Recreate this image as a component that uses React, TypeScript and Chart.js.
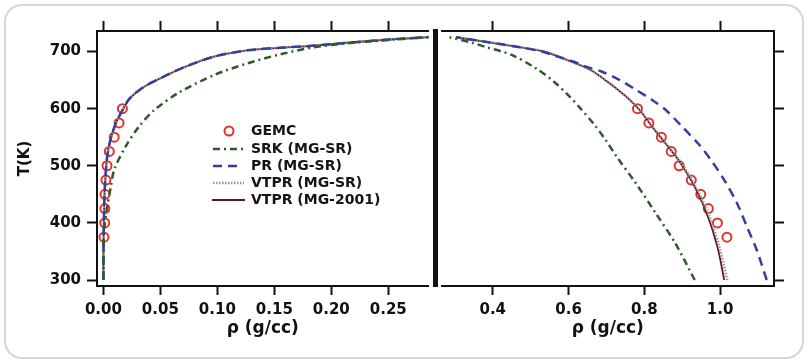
import React, { useEffect, useRef } from 'react';
import { Chart, registerables } from 'chart.js';

Chart.register(...registerables);

// ---------- data ----------
const tempTicks = [300, 400, 500, 600, 700];
const vaporTicks = [0, 0.05, 0.1, 0.15, 0.2, 0.25];
const liquidTicks = [0.4, 0.6, 0.8, 1.0];

const legendLabels = ['GEMC', 'SRK (MG-SR)', 'PR (MG-SR)', 'VTPR (MG-SR)', 'VTPR (MG-2001)'];

// GEMC simulation points
const gemcT = [375, 400, 425, 450, 475, 500, 525, 550, 575, 600];
const gemcVapor = [0.0005, 0.0012, 0.0013, 0.0014, 0.0022, 0.0032, 0.0052, 0.0095, 0.0138, 0.0167];
const gemcLiquid = [1.018, 0.993, 0.969, 0.949, 0.924, 0.892, 0.871, 0.845, 0.812, 0.782];

// VTPR (MG-2001)
const vtpr2001VaporT = [300, 350, 400, 450, 500, 525, 550, 575, 600, 615, 627, 641, 655, 671, 691, 702, 706.5, 710, 715, 721.5, 725.5];
const vtpr2001VaporRho = [0, 0.0001, 0.0004, 0.001, 0.0025, 0.004, 0.0068, 0.011, 0.0175, 0.022, 0.028, 0.038, 0.052, 0.069, 0.097, 0.126, 0.155, 0.183, 0.212, 0.255, 0.29];
const vtpr2001LiquidT = [300, 358, 411, 463, 510, 539, 568, 598, 621, 644, 668, 685, 700, 708, 717, 725];
const vtpr2001LiquidRho = [1.011, 0.993, 0.968, 0.933, 0.89, 0.856, 0.821, 0.787, 0.752, 0.709, 0.657, 0.597, 0.536, 0.467, 0.381, 0.303];

// VTPR (MG-SR)
const vtprSrVaporT = [300, 350, 400, 450, 500, 525, 550, 575, 600, 615, 627, 641, 655, 671, 691, 702, 706.5, 710, 715, 721.5, 725.5];
const vtprSrVaporRho = [0, 0.0001, 0.0004, 0.001, 0.0026, 0.0041, 0.0069, 0.0111, 0.0176, 0.022, 0.028, 0.038, 0.052, 0.069, 0.097, 0.126, 0.155, 0.183, 0.212, 0.255, 0.29];
const vtprSrLiquidT = [300, 358, 411, 463, 510, 539, 568, 598, 621, 644, 668, 685, 700, 708, 717, 725];
const vtprSrLiquidRho = [1.019, 0.998, 0.972, 0.936, 0.892, 0.857, 0.822, 0.787, 0.752, 0.709, 0.657, 0.597, 0.536, 0.467, 0.381, 0.303];

// PR (MG-SR)
const prVaporT = [300, 350, 400, 450, 500, 525, 550, 575, 600, 615, 627, 641, 655, 671, 691, 702, 706.5, 710, 715, 721.5, 725.5];
const prVaporRho = [0, 0.0001, 0.0004, 0.001, 0.0025, 0.004, 0.0068, 0.011, 0.0175, 0.022, 0.028, 0.038, 0.052, 0.069, 0.097, 0.126, 0.155, 0.183, 0.212, 0.255, 0.29];
const prLiquidT = [300, 352, 393, 434, 475, 510, 539, 569, 598, 615, 633, 650, 665, 673, 682, 691, 700, 708, 717, 725];
const prLiquidRho = [1.123, 1.097, 1.071, 1.045, 1.011, 0.976, 0.942, 0.899, 0.856, 0.821, 0.778, 0.735, 0.687, 0.648, 0.614, 0.571, 0.53, 0.467, 0.381, 0.303];

// SRK (MG-SR)
const srkVaporT = [300, 380, 422, 463, 493, 534, 568, 598, 629, 659, 679, 695, 706.7, 714, 721, 726];
const srkVaporRho = [0, 0.0004, 0.0028, 0.0065, 0.0095, 0.0196, 0.031, 0.045, 0.067, 0.0974, 0.126, 0.155, 0.183, 0.212, 0.255, 0.29];
const srkLiquidT = [300, 364, 417, 469, 516, 545, 572, 600, 625, 648, 670, 694, 708, 715, 725];
const srkLiquidRho = [0.933, 0.882, 0.83, 0.778, 0.727, 0.698, 0.668, 0.632, 0.597, 0.56, 0.515, 0.45, 0.381, 0.347, 0.286];

// ---------- styles ----------
const FONT = "'DejaVu Sans'";
const C_GEMC = '#e3332e';
const C_SRK = '#2f5a2a';
const C_PR = '#3240a6';
const C_VSR = '#959595';
const C_V01 = '#5e1424';

const DASH_SRK = [7, 4, 2, 4];
const DASH_PR = [9, 6];
const DASH_VSR = [1.5, 1.5];

const pts = (xs: number[], ys: number[]) => xs.map((x, i) => ({ x, y: ys[i] }));

const lineDs = (label: string, data: any[], color: string, dash: number[], width: number) => ({
  label,
  data,
  showLine: true,
  borderColor: color,
  backgroundColor: color,
  borderWidth: width,
  borderDash: dash,
  pointRadius: 0,
  tension: 0.3,
  fill: false,
});

const gemcDs = (data: any[]) => ({
  label: 'GEMC',
  data,
  showLine: false,
  pointStyle: 'circle',
  pointRadius: 4.5,
  pointBorderWidth: 2,
  pointBorderColor: C_GEMC,
  pointBackgroundColor: 'rgba(0,0,0,0)',
});

const Y_MIN = 289.5;
const Y_MAX = 735.9;

const tickFont = { family: FONT, size: 15, weight: 'bold' as const };
const titleFont = { family: FONT, size: 17, weight: 'bold' as const };

const setTicks = (vals: number[]) => (scale: any) => {
  scale.ticks = vals.map((v) => ({ value: v }));
};

const legendPlugin = {
  id: 'customLegend',
  afterDatasetsDraw(chart: any) {
    const ctx = chart.ctx;
    const x0 = 213;
    const x1 = 245;
    const tx = 251;
    const rows = [131, 149, 166, 183, 200];
    ctx.save();
    ctx.beginPath();
    ctx.strokeStyle = C_GEMC;
    ctx.lineWidth = 2;
    ctx.arc(229, rows[0], 4.5, 0, Math.PI * 2);
    ctx.stroke();
    const sample = (y: number, color: string, dash: number[], w: number, xa: number, xb: number) => {
      ctx.beginPath();
      ctx.setLineDash(dash);
      ctx.strokeStyle = color;
      ctx.lineWidth = w;
      ctx.moveTo(xa, y);
      ctx.lineTo(xb, y);
      ctx.stroke();
    };
    sample(rows[1], C_SRK, DASH_SRK, 2.5, x0, x1 - 2);
    sample(rows[2], C_PR, DASH_PR, 2.5, x0, x1 - 6);
    sample(rows[3], C_VSR, DASH_VSR, 2.5, x0, x1 - 1);
    sample(rows[4], C_V01, [], 2, x0 - 1, x1);
    ctx.setLineDash([]);
    ctx.fillStyle = '#151515';
    ctx.font = `bold 14px ${FONT}`;
    ctx.textBaseline = 'middle';
    ctx.textAlign = 'left';
    legendLabels.forEach((t, i) => ctx.fillText(t, tx, rows[i]));
    ctx.restore();
  },
};

const axisCommon = {
  grid: { display: true, drawOnChartArea: false, drawTicks: true, tickLength: 10, tickWidth: 2, tickColor: '#111' },
  border: { display: true, width: 2, color: '#111' },
};

export default function App() {
  const leftRef = useRef<HTMLCanvasElement>(null);
  const rightRef = useRef<HTMLCanvasElement>(null);

  useEffect(() => {
    document.body.style.margin = '0';
    const left = new Chart(leftRef.current!, {
      type: 'scatter',
      data: {
        datasets: [
          lineDs('SRK (MG-SR)', pts(srkVaporRho, srkVaporT), C_SRK, DASH_SRK, 2.5),
          lineDs('PR (MG-SR)', pts(prVaporRho, prVaporT), C_PR, DASH_PR, 2.5),
          lineDs('VTPR (MG-SR)', pts(vtprSrVaporRho, vtprSrVaporT), C_VSR, DASH_VSR, 2.5),
          lineDs('VTPR (MG-2001)', pts(vtpr2001VaporRho, vtpr2001VaporT), C_V01, [], 1.8),
          gemcDs(pts(gemcVapor, gemcT)),
        ] as any,
      },
      options: {
        responsive: false,
        animation: false,
        layout: { padding: 0 },
        plugins: { legend: { display: false }, tooltip: { enabled: false } },
        scales: {
          x: {
            type: 'linear',
            position: 'bottom',
            min: -0.0056,
            max: 0.2853,
            afterBuildTicks: setTicks(vaporTicks),
            afterFit: (s: any) => { s.height = 77; },
            ticks: { font: tickFont, color: '#111', padding: 6, maxRotation: 0, callback: (v: any) => Number(v).toFixed(2) },
            title: { display: true, text: 'ρ (g/cc)', font: titleFont, color: '#111', padding: { top: 0, bottom: 24 } },
            ...axisCommon,
            grid: { ...axisCommon.grid, tickLength: 9 },
          },
          x2: {
            type: 'linear',
            position: 'top',
            min: -0.0056,
            max: 0.2853,
            afterBuildTicks: setTicks(vaporTicks),
            afterFit: (s: any) => { s.height = 31; },
            ticks: { display: false },
            ...axisCommon,
          },
          y: {
            type: 'linear',
            position: 'left',
            min: Y_MIN,
            max: Y_MAX,
            afterBuildTicks: setTicks(tempTicks),
            afterFit: (s: any) => { s.width = 97; },
            ticks: { font: tickFont, color: '#111', padding: 6 },
            title: { display: true, text: 'T(K)', font: { family: FONT, size: 15, weight: 'bold' }, color: '#111', padding: { top: 16, bottom: 0 } },
            ...axisCommon,
          },
        },
      } as any,
      plugins: [legendPlugin],
    });

    const right = new Chart(rightRef.current!, {
      type: 'scatter',
      data: {
        datasets: [
          lineDs('SRK (MG-SR)', pts(srkLiquidRho, srkLiquidT), C_SRK, DASH_SRK, 2.5),
          lineDs('PR (MG-SR)', pts(prLiquidRho, prLiquidT), C_PR, DASH_PR, 2.5),
          lineDs('VTPR (MG-SR)', pts(vtprSrLiquidRho, vtprSrLiquidT), C_VSR, DASH_VSR, 2.5),
          lineDs('VTPR (MG-2001)', pts(vtpr2001LiquidRho, vtpr2001LiquidT), C_V01, [], 1.8),
          gemcDs(pts(gemcLiquid, gemcT)),
        ] as any,
      },
      options: {
        responsive: false,
        animation: false,
        layout: { padding: 0 },
        plugins: { legend: { display: false }, tooltip: { enabled: false } },
        scales: {
          x: {
            type: 'linear',
            position: 'bottom',
            min: 0.2647,
            max: 1.1423,
            afterBuildTicks: setTicks(liquidTicks),
            afterFit: (s: any) => { s.height = 77; },
            ticks: { font: tickFont, color: '#111', padding: 6, maxRotation: 0, callback: (v: any) => Number(v).toFixed(1) },
            title: { display: true, text: 'ρ (g/cc)', font: titleFont, color: '#111', padding: { top: 0, bottom: 24 } },
            ...axisCommon,
            grid: { ...axisCommon.grid, tickLength: 9 },
          },
          x2: {
            type: 'linear',
            position: 'top',
            min: 0.2647,
            max: 1.1423,
            afterBuildTicks: setTicks(liquidTicks),
            afterFit: (s: any) => { s.height = 31; },
            ticks: { display: false },
            ...axisCommon,
          },
          y: {
            type: 'linear',
            position: 'right',
            min: Y_MIN,
            max: Y_MAX,
            afterBuildTicks: setTicks(tempTicks),
            afterFit: (s: any) => { s.width = 35; },
            ticks: { display: false },
            ...axisCommon,
          },
        },
      } as any,
    });

    return () => {
      left.destroy();
      right.destroy();
    };
  }, []);

  return (
    <div style={{ position: 'absolute', left: 0, top: 0, width: 809, height: 363, background: '#fff', overflow: 'hidden' }}>
      <div
        style={{
          position: 'absolute',
          left: 4,
          top: 4,
          width: 796,
          height: 351,
          border: '2.5px solid #d6d6d6',
          borderRadius: 18,
          boxSizing: 'content-box',
        }}
      />
      <canvas ref={leftRef} width={435} height={363} style={{ position: 'absolute', left: 0, top: 0 }} />
      <canvas ref={rightRef} width={374} height={363} style={{ position: 'absolute', left: 435, top: 0 }} />
      <div style={{ position: 'absolute', left: 433, top: 29, width: 4.5, height: 258, background: '#111' }} />
    </div>
  );
}
